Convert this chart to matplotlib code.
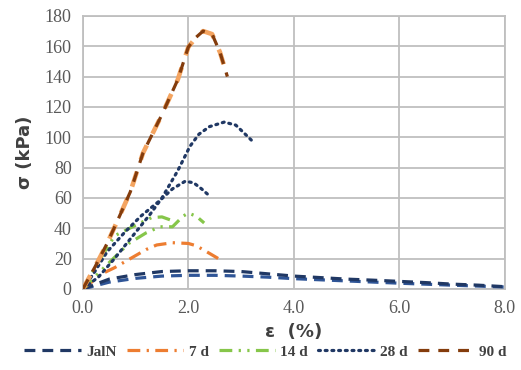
import matplotlib
matplotlib.use("Agg")
import matplotlib.pyplot as plt
from matplotlib.lines import Line2D

# ---- data (strain %, stress kPa) ----
jaln_a_x = [0, 0.5, 1.0, 1.5, 2.0, 2.5, 3.0, 3.5, 4.0, 4.5, 5.0, 5.5, 6.0, 6.5, 7.0, 7.5, 8.0]
jaln_a_y = [0, 6.5, 9.5, 11.5, 12, 12, 11.5, 10, 8.5, 7.5, 6.5, 5.8, 5.0, 4.2, 3.2, 2.5, 1.5]
jaln_b_x = [0, 0.5, 1.0, 1.5, 2.0, 2.5, 3.0, 3.5, 4.0, 5.0, 6.0, 7.0, 8.0]
jaln_b_y = [0, 4.5, 7.0, 8.5, 9.0, 9.0, 8.5, 7.8, 6.8, 5.3, 3.8, 2.5, 1.3]

d7_x = [0, 0.36, 0.6, 0.8, 1.2, 1.4, 1.7, 2.0, 2.15, 2.35, 2.57]
d7_y = [0, 10, 14, 18, 26, 29, 30.5, 30, 28.5, 24.5, 20]

d14_a_x = [0, 0.3, 0.6, 1.0, 1.3, 1.5, 1.7]
d14_a_y = [0, 18, 35, 42, 47, 47.5, 45]
d14_b_x = [0, 0.4, 0.87, 1.2, 1.46, 1.7, 1.9, 2.0, 2.15, 2.3]
d14_b_y = [0, 14, 30, 37, 41, 41, 48, 50, 48, 43.5]

d28_a_x = [0, 0.3, 0.6, 0.9, 1.27, 1.5, 1.8, 2.03, 2.2, 2.4, 2.68, 2.9, 3.05, 3.21]
d28_a_y = [0, 8, 20, 33, 49, 60, 78, 94, 102, 107, 110, 108, 103, 97.6]
d28_b_x = [0, 0.2, 0.46, 0.8, 1.1, 1.45, 1.7, 1.94, 2.1, 2.25, 2.38]
d28_b_y = [0, 10, 24.5, 37.6, 48, 58, 66, 71, 70, 66, 62]

d90_x = [0, 0.23, 0.46, 0.68, 0.9, 1.14, 1.5, 1.8, 2.0, 2.15, 2.28, 2.45, 2.6, 2.74]
d90_y = [0, 14.5, 30, 46.8, 64, 89.6, 115, 138, 159.5, 166, 170, 168, 156, 140]

labels = ["JalN", "7 d", "14 d", "28 d", "90 d"]
x_ticks = [0.0, 2.0, 4.0, 6.0, 8.0]
y_ticks = [0, 20, 40, 60, 80, 100, 120, 140, 160, 180]

navy = "#203864"
blue = "#2F5597"
orange = "#ED7D31"
green = "#86C64A"
brown = "#843C0C"

fig = plt.figure(figsize=(5.21, 3.70), dpi=100)
ax = fig.add_axes([0.159, 0.219, 0.810, 0.738])

lw = 2.3
st_jaln = (0, (3.4, 2.2))
st_7 = (0, (4.0, 2.0, 0.7, 2.0))
st_14 = (0, (4.0, 2.0, 0.7, 2.0, 0.7, 2.0))
st_28 = (0, (0.6, 1.5))
st_90 = (0, (3.4, 2.8))

ax.plot(jaln_b_x, jaln_b_y, color=blue, lw=lw, linestyle=st_jaln, zorder=3)
ax.plot(jaln_a_x, jaln_a_y, color=navy, lw=lw, linestyle=st_jaln, zorder=3)
ax.plot(d7_x, d7_y, color=orange, lw=lw, linestyle=st_7, zorder=3)
ax.plot(d14_a_x, d14_a_y, color=green, lw=lw, linestyle=st_14, zorder=3)
ax.plot(d14_b_x, d14_b_y, color=green, lw=lw, linestyle=st_14, zorder=3)
ax.plot(d28_a_x, d28_a_y, color=navy, lw=lw, linestyle=st_28, dash_capstyle="round", zorder=3)
ax.plot(d28_b_x, d28_b_y, color=navy, lw=lw, linestyle=st_28, dash_capstyle="round", zorder=3)
ax.plot(d90_x, d90_y, color="#F4A460", lw=lw + 1.0, linestyle=st_90, zorder=3)
ax.plot(d90_x, d90_y, color=brown, lw=lw, linestyle=st_90, zorder=4)

ax.set_xlim(0, 8)
ax.set_ylim(0, 180)
ax.set_xticks(x_ticks)
ax.set_xticklabels([f"{v:.1f}" for v in x_ticks])
ax.set_yticks(y_ticks)
ax.set_yticklabels([str(v) for v in y_ticks])
ax.grid(True, color="#BFBFBF", lw=1.3)
ax.set_axisbelow(True)
for s in ax.spines.values():
    s.set_color("#BFBFBF")
    s.set_linewidth(1.3)
ax.tick_params(length=0, pad=8, labelsize=13, labelcolor="#595959")
for t in ax.get_xticklabels() + ax.get_yticklabels():
    t.set_fontfamily("Liberation Serif")

ax.set_ylabel("σ (kPa)", fontsize=13, fontweight="bold", color="#404040",
              family="DejaVu Sans", labelpad=8)
ax.set_xlabel("ε  (%)", fontsize=13, fontweight="bold", color="#404040",
              family="DejaVu Sans", labelpad=4)

handles = [
    Line2D([], [], color=navy, lw=lw, linestyle=st_jaln),
    Line2D([], [], color=orange, lw=lw, linestyle=st_7),
    Line2D([], [], color=green, lw=lw, linestyle=st_14),
    Line2D([], [], color=navy, lw=lw, linestyle=st_28, dash_capstyle="round"),
    Line2D([], [], color=brown, lw=lw, linestyle=st_90),
]
leg = fig.legend(handles, labels, loc="center", bbox_to_anchor=(0.51, 0.049), ncol=5,
                 frameon=False, handlelength=3.7, handletextpad=0.35, columnspacing=0.65,
                 borderaxespad=0, borderpad=0,
                 prop={"family": "Liberation Serif", "weight": "bold", "size": 11})
for t in leg.get_texts():
    t.set_color("#404040")

fig.savefig("out.png", dpi=100)
